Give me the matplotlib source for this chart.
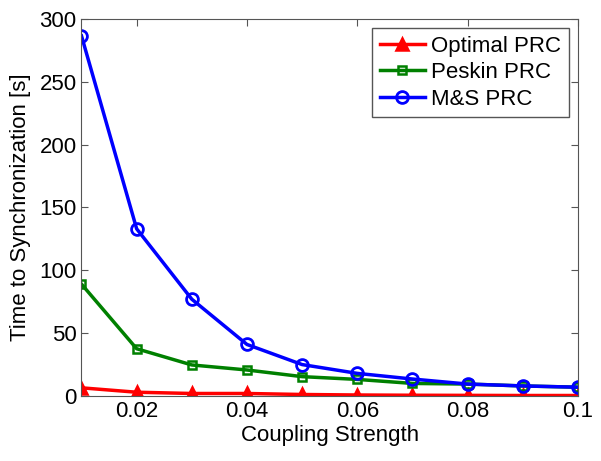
import matplotlib
matplotlib.use("Agg")
import matplotlib.pyplot as plt

plt.rcParams['font.family'] = ['Liberation Sans', 'DejaVu Sans']

coupling = [0.01, 0.02, 0.03, 0.04, 0.05, 0.06, 0.07, 0.08, 0.09, 0.1]
optimal = [6.5, 3.0, 2.0, 2.0, 1.2, 0.8, 0.6, 0.5, 0.4, 0.4]
peskin = [89, 37.6, 24.7, 20.7, 15.4, 13.2, 10.0, 9.5, 8.0, 7.0]
ms = [286.5, 133, 77, 41, 25, 18, 13.5, 9.5, 8.0, 7.0]

fig = plt.figure(figsize=(6.01, 4.61), dpi=100)
ax = fig.add_axes([0.1356, 0.141, 0.826, 0.818])

ax.plot(coupling, optimal, color='red', marker='^', markersize=9, linewidth=2.5,
        markeredgewidth=1.8, label='Optimal PRC')
ax.plot(coupling, peskin, color='green', marker='s', markersize=6, linewidth=2.5,
        markerfacecolor='none', markeredgewidth=1.8, label='Peskin PRC')
ax.plot(coupling, ms, color='blue', marker='o', markersize=8.5, linewidth=2.5,
        markerfacecolor='none', markeredgewidth=2, label='M&S PRC')

ax.set_xlim(0.01, 0.1)
ax.set_ylim(0, 300)
ax.set_xticks([0.02, 0.04, 0.06, 0.08, 0.1])
ax.set_xticklabels(['0.02', '0.04', '0.06', '0.08', '0.1'])
ax.set_yticks([0, 50, 100, 150, 200, 250, 300])
ax.tick_params(direction='in', top=True, right=True, labelsize=16, length=5,
               color='#555555')
ax.set_xlabel('Coupling Strength', fontsize=16, labelpad=2)
ax.set_ylabel('Time to Synchronization [s]', fontsize=16, labelpad=6)
for s in ax.spines.values():
    s.set_color('#555555')

leg = ax.legend(loc='upper right', fontsize=16, fancybox=False, edgecolor='#555555',
                framealpha=1, handlelength=2.0, handletextpad=0.3,
                borderaxespad=0.4, borderpad=0.35, labelspacing=0.25)
leg.get_frame().set_linewidth(1.0)

fig.savefig('out.png', dpi=100)
